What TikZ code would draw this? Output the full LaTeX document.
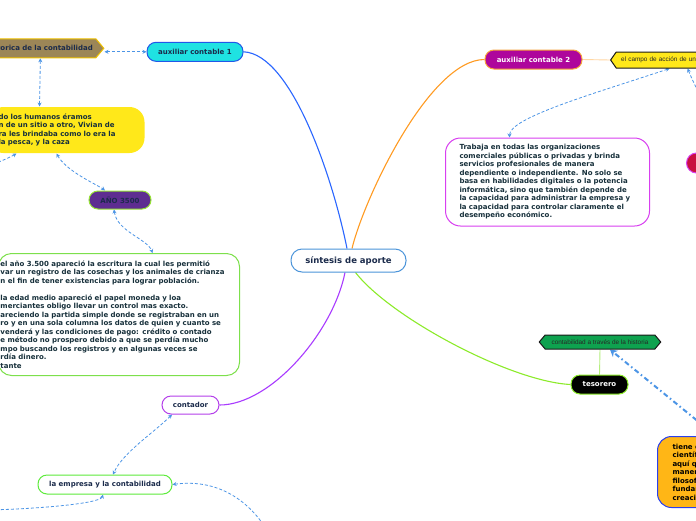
\documentclass[tikz,border=0pt]{standalone}
\usepackage{fontspec}
\setmainfont{DejaVu Sans}
\newfontfamily\tagfamily{Liberation Sans}
\usepackage{tikz}
\usetikzlibrary{arrows.meta,backgrounds,shapes.symbols}
\usepackage{xcolor}
\definecolor{mapInk}{HTML}{17303B}
\definecolor{mapNavy}{HTML}{1B2B4B}
\definecolor{rootEdge}{HTML}{4B94DA}
\definecolor{auxCyan}{HTML}{1FE2E2}
\definecolor{auxBlue}{HTML}{2158E8}
\definecolor{trunkBlue}{HTML}{2A66FF}
\definecolor{histBrown}{HTML}{9C8657}
\definecolor{histGold}{HTML}{EFC100}
\definecolor{linkBlue}{HTML}{4C95E6}
\definecolor{nomadYellow}{HTML}{FFE81A}
\definecolor{anoPurple}{HTML}{5E2D91}
\definecolor{limeEdge}{HTML}{96E236}
\definecolor{noteGreen}{HTML}{7DE04C}
\definecolor{contPurple}{HTML}{B43FEA}
\definecolor{trunkPurple}{HTML}{A93BFF}
\definecolor{empGreen}{HTML}{5DEB3B}
\definecolor{auxMagenta}{HTML}{AE069C}
\definecolor{auxOrange}{HTML}{F6A43C}
\definecolor{trunkOrange}{HTML}{FF9B22}
\definecolor{paleOrange}{HTML}{FFD7A3}
\definecolor{noteMagenta}{HTML}{D83FF0}
\definecolor{redFill}{HTML}{C9103F}
\definecolor{trunkLime}{HTML}{8CEB2A}
\definecolor{paleLime}{HTML}{B5EE7E}
\definecolor{hexGreen}{HTML}{0EA24F}
\definecolor{amberFill}{HTML}{FFB616}
\definecolor{amberEdge}{HTML}{2A40EE}
\newcommand{\mapRoot}{\fontsize{8.5}{10}\selectfont\bfseries}
\newcommand{\mapLabel}{\fontsize{7}{8.5}\selectfont\bfseries}
\newcommand{\mapTag}{\tagfamily\fontsize{6.4}{7.5}\selectfont}
\tikzset{
  topic/.style     = {rounded corners=9pt, line width=1pt, font=\mapLabel,
                      text=mapNavy, inner xsep=3pt, inner ysep=2pt, minimum height=19pt},
  notebox/.style   = {rounded corners=15pt, line width=1pt, align=left,
                      font=\mapLabel, text=mapInk, inner ysep=2pt},
  tagbox/.style    = {signal, line width=1pt, draw=black!90, font=\mapTag,
                      text=black!85, inner ysep=1pt, inner xsep=5pt},
  trunk/.style     = {line width=1.1pt},
  twig/.style      = {line width=0.9pt},
  relink/.style    = {{Stealth[length=4pt,width=4pt]}-{Stealth[length=4pt,width=4pt]},
                      line width=0.8pt, draw=linkBlue, dash pattern=on 3pt off 2pt},
  backlink/.style  = {{Stealth[length=4pt,width=4pt]}-, line width=0.8pt,
                      draw=linkBlue, dash pattern=on 3pt off 2pt},
  thicklink/.style = {-{Stealth[length=7pt,width=8pt]}, line width=2pt, draw=linkBlue,
                      dash pattern=on 5pt off 3pt on 1.5pt off 3pt},
}

\begin{document}
\begin{tikzpicture}[x=1pt,y=-1pt]
  \useasboundingbox (0,0) rectangle (696,520);

  % root
  \node[topic, draw=rootEdge, fill=white, font=\mapRoot, minimum width=115pt,
        minimum height=23pt, rounded corners=11pt] (sint) at (348.5,260.5) {síntesis de aporte};

  % left branch
  \node[topic, draw=auxBlue, fill=auxCyan, minimum width=96pt] (aux1) at (195,51.8) {auxiliar contable 1};
  \node[signal, signal to=east, signal pointer angle=100, draw=histGold, fill=histBrown,
        line width=1pt, font=\mapLabel, text=mapNavy, text width=140pt, align=right,
        inner xsep=3pt, inner ysep=0pt, minimum height=19pt, anchor=east] (hist)
        at (104.5,48.3) {torica de la contabilidad};
  \node[notebox, fill=nomadYellow, text width=136pt, inner xsep=10pt, minimum height=46pt,
        anchor=east] (nomad) at (145,130)
    {do los humanos éramos\\n de un sitio a otro, Vivian de\\ra les brindaba  como lo era la\\la pesca, y la caza};
  \node[topic, draw=limeEdge, fill=anoPurple, minimum width=62pt, minimum height=18pt] (ano)
        at (120,200) {AÑO 3500};
  \node[notebox, draw=noteGreen, fill=white, text width=237pt, inner xsep=2pt,
        minimum height=122pt, rounded corners=13pt, anchor=north east] (escri) at (240,253)
    {el año 3.500 apareció la escritura  la cual les permitió\\
     var un registro de las cosechas y los animales de crianza\\
     n el fin de tener existencias para lograr población.\\[8.5pt]
     la edad  medio apareció el papel  moneda y loa\\
     merciantes obligo llevar un control mas exacto.\\
     areciendo la partida simple donde se registraban en un\\
     ro y en una sola columna los datos de quien y cuanto se\\
     venderá  y las condiciones de pago: crédito o contado\\
     e método no prospero debido a que se perdía mucho\\
     mpo  buscando los registros y en algunas veces se\\
     rdía dinero.\\
     tante};
  \node[topic, draw=contPurple, fill=white, minimum width=57pt, minimum height=18pt] (cont)
        at (190.5,405) {contador};
  \node[topic, draw=empGreen, fill=white, minimum width=134pt] (emp) at (105,484.5)
        {la empresa y la contabilidad};

  % right branch
  \node[topic, draw=auxOrange, fill=auxMagenta, text=white, minimum width=97pt] (aux2)
        at (533.5,59.5) {auxiliar contable 2};
  \node[tagbox, signal to=west, signal pointer angle=110, fill=nomadYellow, text width=100pt,
        align=left, minimum height=16pt, anchor=west] (campo) at (610,60) {el campo de acción de un c};
  \node[notebox, draw=noteMagenta, fill=white, text width=176pt, inner xsep=14pt,
        minimum height=88pt, anchor=west] (trab) at (445,182)
    {Trabaja en todas las organizaciones\\
     comerciales públicas o privadas y brinda\\
     servicios profesionales de manera\\
     dependiente o independiente. No solo se\\
     basa en habilidades digitales o la potencia\\
     informática, sino que también depende de\\
     la capacidad para administrar la empresa y\\
     la capacidad para controlar claramente el\\
     desempeño económico.};
  \node[topic, draw=noteMagenta, fill=redFill, minimum width=60pt, minimum height=20pt,
        rounded corners=10pt, anchor=west] (rojo) at (686,163) {};
  \node[topic, draw=trunkLime, fill=black, text=white, minimum width=57pt] (teso)
        at (599.5,384.5) {tesorero};
  \node[tagbox, signal to=east and west, signal pointer angle=100, fill=hexGreen,
        inner xsep=6.5pt, minimum height=14pt] (hexh) at (600,342)
        {contabilidad a través de la historia};
  \node[notebox, draw=amberEdge, fill=amberFill, text=black, text width=100pt, inner xsep=15pt,
        minimum height=71pt, rounded corners=14pt, anchor=north west] (amber) at (657,436)
    {tiene c\\científ\\aquí q\\maner\\filosof\\fundar\\creació};

  \coordinate (offW) at (-25,172);
  \coordinate (offSW) at (-20,510);
  \coordinate (offS) at (270,535);

  \begin{scope}[on background layer]
    \fill[white] (0,0) rectangle (696,520);
    \draw[trunk, trunkBlue] (aux1.east) .. controls +(48,2) and +(-14,-70) .. ([xshift=-1.5pt]sint.north);
    \draw[trunk, trunkOrange] ([xshift=3.5pt]sint.north) .. controls +(12,-50) and +(-55,0) .. (aux2.west);
    \draw[trunk, trunkPurple] ([xshift=-3.5pt]sint.south) .. controls +(-12,60) and +(51,0) .. (cont.east);
    \draw[trunk, trunkLime] ([xshift=7pt]sint.south) .. controls +(35,45) and +(-60,-3) .. (teso.west);

    \draw[relink] (hist.east |- aux1.west) -- (aux1.west);
    \draw[relink] ([xshift=17.5pt]hist.south) -- ([xshift=-27pt]nomad.north);
    \draw[relink] ([xshift=-10pt]nomad.south) .. controls +(10,18) and +(-8,-6) .. ([xshift=-15pt]ano.north);
    \draw[backlink] ([xshift=-50pt]nomad.south) .. controls +(-10,6) and +(8,-4) .. (offW);
    \draw[relink] ([xshift=-6pt]ano.south) .. controls +(3,22) and +(-5,-14) .. ([xshift=33.5pt]escri.north);
    \draw[relink] ([xshift=-18.5pt]cont.south) .. controls +(-18,18) and +(10,-22) .. ([xshift=8pt]emp.north);
    \draw[backlink] ([xshift=-2pt]emp.south) .. controls +(-3,10) and +(40,0) .. (offSW);
    \draw[backlink] (emp.east) .. controls +(45,-6) and +(-20,-35) .. (offS);

    \draw[twig, paleOrange] (aux2.east) -- (campo.west);
    \draw[relink] ([xshift=-1.6pt]campo.south) .. controls +(-75,25) and +(0,-20) .. ([xshift=-38pt]trab.north);
    \draw[backlink] ([xshift=16.4pt]campo.south) .. controls +(10,25) and +(0,-30) .. (rojo.north);
    \draw[twig, paleLime] (teso.north) -- (hexh.south);
    \draw[thicklink] ([xshift=59pt]amber.north west) -- ([xshift=10pt]hexh.south);
  \end{scope}
\end{tikzpicture}
\end{document}
